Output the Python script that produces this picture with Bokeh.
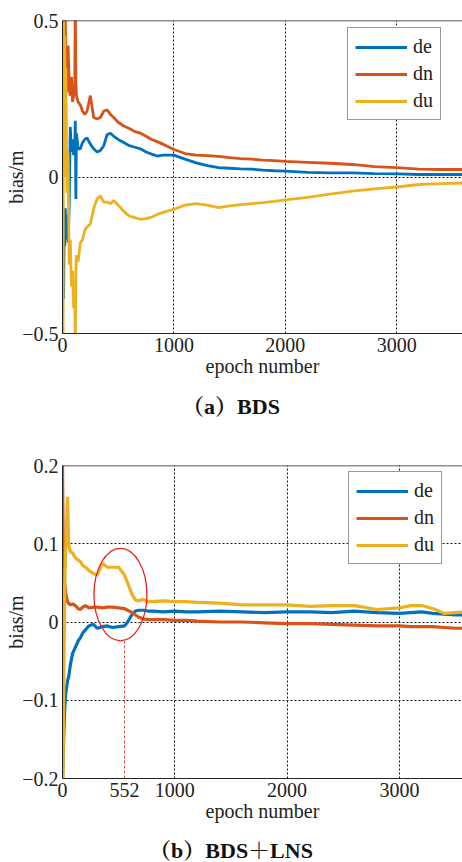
from bokeh.plotting import figure
from bokeh.models import Range1d, FixedTicker, Legend, LegendItem, Span, Div
from bokeh.layouts import column
from bokeh.embed import file_html
from bokeh.resources import INLINE

# ---------------- data (a) BDS ----------------
ep_a = [0, 5, 10, 15, 20, 25, 30, 40, 50, 60, 70, 80, 90, 100, 110, 115, 120, 125,
        140, 160, 180, 200, 220, 250, 280, 310, 340, 370, 400, 430, 460, 500, 550,
        600, 650, 700, 750, 800, 850, 900, 1000, 1100, 1200, 1300, 1400, 1500, 1600,
        1700, 1800, 1900, 2000, 2200, 2400, 2600, 2800, 3000, 3200, 3400, 3600]
de_a = [0.0, -0.3, -0.39, -0.15, -0.22, -0.1, -0.2, -0.12, -0.21, -0.1, 0.16, 0.08, 0.12,
        0.07, 0.1, 0.18, -0.07, 0.14, 0.09, 0.09, 0.11, 0.12, 0.125, 0.105, 0.09, 0.08,
        0.085, 0.1, 0.135, 0.14, 0.13, 0.12, 0.11, 0.1, 0.095, 0.09, 0.08, 0.073, 0.067,
        0.07, 0.07, 0.057, 0.045, 0.036, 0.03, 0.028, 0.026, 0.025, 0.022, 0.02, 0.019,
        0.015, 0.013, 0.013, 0.011, 0.01, 0.008, 0.008, 0.008]
dn_a = [0.55, 0.3, 0.45, 0.25, 0.38, 0.55, 0.3, 0.27, 0.42, 0.3, 0.26, 0.32, 0.24, 0.26,
        0.3, 0.55, 0.3, 0.26, 0.24, 0.23, 0.21, 0.2, 0.21, 0.26, 0.19, 0.185, 0.19, 0.21,
        0.215, 0.2, 0.19, 0.175, 0.163, 0.155, 0.145, 0.14, 0.13, 0.12, 0.113, 0.105,
        0.088, 0.075, 0.07, 0.068, 0.066, 0.062, 0.059, 0.057, 0.054, 0.052, 0.05,
        0.047, 0.044, 0.04, 0.033, 0.03, 0.025, 0.024, 0.024]
du_a = [0.55, -0.55, 0.55, 0.1, 0.45, 0.0, 0.35, -0.05, 0.08, -0.28, -0.2, -0.35, -0.3,
        -0.42, -0.38, -0.55, -0.3, -0.25, -0.27, -0.21, -0.2, -0.17, -0.16, -0.15, -0.1,
        -0.07, -0.06, -0.08, -0.08, -0.085, -0.075, -0.09, -0.11, -0.125, -0.13, -0.135,
        -0.133, -0.128, -0.12, -0.113, -0.103, -0.09, -0.085, -0.09, -0.098, -0.092,
        -0.088, -0.085, -0.082, -0.078, -0.073, -0.065, -0.055, -0.045, -0.038, -0.032,
        -0.024, -0.021, -0.019]

# ---------------- data (b) BDS+LNS ----------------
ep_b = [0, 5, 10, 20, 30, 45, 55, 70, 90, 115, 140, 160, 180, 205, 235, 275, 310, 355,
        400, 445, 500, 552, 580, 620, 650, 680, 720, 760, 800, 900, 1000, 1100, 1200,
        1400, 1600, 1800, 2000, 2200, 2400, 2600, 2800, 3000, 3100, 3200, 3300, 3400,
        3500, 3600]
de_b = [-0.2, -0.18, -0.15, -0.11, -0.09, -0.075, -0.07, -0.055, -0.04, -0.032, -0.024,
        -0.02, -0.014, -0.01, -0.005, -0.003, -0.008, -0.006, -0.005, -0.007, -0.006,
        -0.005, 0.0, 0.01, 0.014, 0.015, 0.015, 0.014, 0.014, 0.013, 0.014, 0.013, 0.013,
        0.014, 0.013, 0.012, 0.013, 0.013, 0.012, 0.014, 0.012, 0.011, 0.012, 0.013,
        0.011, 0.01, 0.009, 0.009]
dn_b = [0.2, 0.12, 0.08, 0.05, 0.035, 0.026, 0.024, 0.022, 0.023, 0.021, 0.017, 0.016,
        0.019, 0.021, 0.018, 0.019, 0.019, 0.018, 0.019, 0.019, 0.018, 0.017, 0.015,
        0.012, 0.009, 0.006, 0.004, 0.003, 0.003, 0.003, 0.002, 0.002, 0.001, 0.0, 0.0,
        -0.001, -0.002, -0.002, -0.003, -0.004, -0.005, -0.005, -0.006, -0.006, -0.006,
        -0.007, -0.008, -0.008]
du_b = [-0.2, -0.2, -0.1, 0.05, 0.1, 0.16, 0.1, 0.09, 0.088, 0.082, 0.079, 0.077, 0.072,
        0.07, 0.066, 0.062, 0.06, 0.075, 0.07, 0.07, 0.07, 0.06, 0.05, 0.035, 0.028,
        0.027, 0.029, 0.026, 0.026, 0.027, 0.026, 0.026, 0.025, 0.024, 0.022, 0.022,
        0.022, 0.02, 0.021, 0.021, 0.016, 0.018, 0.021, 0.021, 0.017, 0.011, 0.012, 0.013]

# highlighted region in (b)
mark_epoch = 552
ell_x, ell_y, ell_w, ell_h = 516, 0.035, 472, 0.118

series_names = ["de", "dn", "du"]
colors = ["#0072BD", "#D95319", "#EDB120"]

xticks_a = [0, 1000, 2000, 3000]
xticks_b = [0, 552, 1000, 2000, 3000]
yticks_a = [-0.5, 0, 0.5]
yticks_b = [-0.2, -0.1, 0, 0.1, 0.2]

caption_a = "（a）BDS"
caption_b = "（b）BDS＋LNS"

SERIF = "'Liberation Serif', 'Times New Roman', serif"
CAPFONT = "'Liberation Serif', 'Noto Serif CJK SC', 'Noto Sans CJK SC', serif"
FS = "20px"


def fmt(v):
    if v == 0:
        return "0"
    s = ("%g" % abs(v))
    return ("\u2212" + s) if v < 0 else s


def make_fig(height, top, left, bottom, xmax, ylo, yhi, xticks, yticks, ygrid):
    p = figure(width=462, height=height, output_backend="svg", toolbar_location=None,
               x_range=Range1d(0, xmax), y_range=Range1d(ylo, yhi),
               min_border_top=top, min_border_left=left, min_border_bottom=bottom,
               min_border_right=0)
    p.outline_line_color = None
    p.background_fill_color = "white"
    p.border_fill_color = "white"
    for ax in (p.xaxis[0], p.yaxis[0]):
        ax.major_label_text_font = SERIF
        ax.major_label_text_font_size = FS
        ax.major_label_text_color = "#222222"
        ax.axis_label_text_font = SERIF
        ax.axis_label_text_font_size = FS
        ax.axis_label_text_font_style = "normal"
        ax.axis_label_text_color = "#222222"
        ax.major_tick_in = 0
        ax.major_tick_out = 0
        ax.minor_tick_in = 0
        ax.minor_tick_out = 0
        ax.axis_line_color = "#222222"
        ax.major_label_standoff = 4
    p.xaxis.ticker = FixedTicker(ticks=xticks)
    p.yaxis.ticker = FixedTicker(ticks=yticks)
    p.yaxis.major_label_overrides = {float(t): fmt(t) for t in yticks}
    p.xaxis.axis_label = "epoch number"
    p.xaxis.axis_label_standoff = 0
    p.yaxis.axis_label = "bias/m"
    p.yaxis.axis_label_standoff = -8
    p.xgrid.ticker = FixedTicker(ticks=[1000, 2000, 3000])
    p.ygrid.ticker = FixedTicker(ticks=ygrid)
    for g in (p.xgrid[0], p.ygrid[0]):
        g.grid_line_color = "#111111"
        g.grid_line_dash = "2 2"
        g.grid_line_width = 1
        g.grid_line_alpha = 1.0
    p.add_layout(Span(location=yhi, dimension="width", line_color="#222222",
                      line_width=1.5))
    return p


pa = make_fig(395, 20, 60, 62, 3590, -0.5, 0.5, xticks_a, yticks_a, [0])
pb = make_fig(410, 35, 62, 62, 3562, -0.2, 0.2, xticks_b, yticks_b, [-0.1, 0, 0.1])


def caption_div(text, height, line_h):
    return Div(text=text, width=462, height=height, margin=(0, 0, 0, 0),
               styles={"font-family": CAPFONT, "font-size": "22px",
                       "font-weight": "bold", "text-align": "center",
                       "line-height": "%dpx" % line_h, "color": "#111111",
                       "width": "462px", "background": "white"})


div_a = caption_div(caption_a, 35, 24)
div_b = caption_div(caption_b, 22, 22)

items_a = []
for name, col, ys in zip(series_names, colors, [de_a, dn_a, du_a]):
    r = pa.line(ep_a, ys, line_color=col, line_width=2.8)
    items_a.append(LegendItem(label=name, renderers=[r]))

items_b = []
for name, col, ys in zip(series_names, colors, [de_b, dn_b, du_b]):
    r = pb.line(ep_b, ys, line_color=col, line_width=3.2)
    items_b.append(LegendItem(label=name, renderers=[r]))

pb.ellipse(x=[ell_x], y=[ell_y], width=ell_w, height=ell_h, fill_color=None,
           line_color="#e8201e", line_width=1.3)
pb.segment(x0=[mark_epoch], y0=[-0.2], x1=[mark_epoch], y1=[ell_y - ell_h / 2],
           line_color="#d9534f", line_width=1, line_dash="3 2")


def add_legend(p, items, loc):
    lg = Legend(items=items, location=loc)
    lg.label_text_font = SERIF
    lg.label_text_font_size = FS
    lg.label_text_color = "#222222"
    lg.border_line_color = "#333333"
    lg.border_line_width = 1
    lg.background_fill_alpha = 1.0
    lg.glyph_width = 52
    lg.glyph_height = 20
    lg.label_height = 20
    lg.label_standoff = 6
    lg.padding = 7
    lg.spacing = 4
    lg.margin = 0
    p.add_layout(lg, "center")


add_legend(pa, items_a, (285, 213))
add_legend(pb, items_b, (286, 214))

layout = column(pa, div_a, pb, div_b, spacing=0)
open("out.html", "w").write(file_html(layout, INLINE))
